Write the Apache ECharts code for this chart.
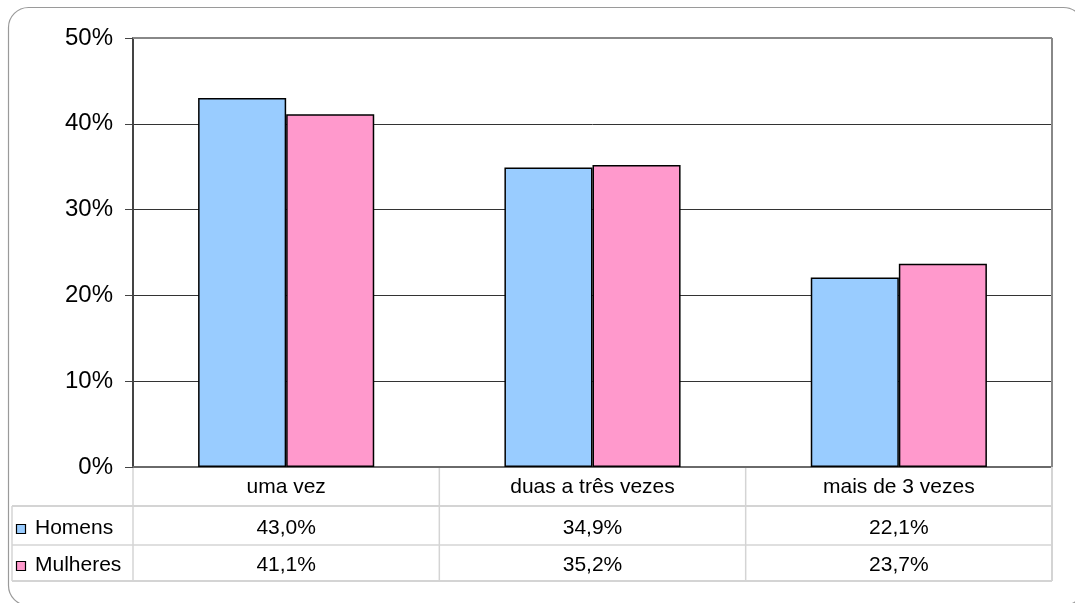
<!DOCTYPE html>
<html>
<head>
<meta charset="utf-8">
<script src="https://cdn.jsdelivr.net/npm/echarts@6/dist/echarts.min.js"></script>
<style>
html,body{margin:0;padding:0;background:#fff;}
#c{width:1075px;height:603px;}
</style>
</head>
<body>
<div id="c"></div>
<script>
var categories = ['uma vez', 'duas a três vezes', 'mais de 3 vezes'];
var seriesNames = ['Homens', 'Mulheres'];
var homens = [43.0, 34.9, 22.1];
var mulheres = [41.1, 35.2, 23.7];
var yTicks = [0, 10, 20, 30, 40, 50];
var colors = ['#99ccff', '#ff99cc'];

(function () {
var FONT = 'Liberation Sans, Arial, sans-serif';
function fmt(v){ return v.toFixed(1).replace('.', ',') + '%'; }

var chart = echarts.init(document.getElementById('c'));
var option = {
  animation: false,
  backgroundColor: '#fff',
  textStyle: { fontFamily: FONT },
  grid: { left: 133, right: 23, top: 38, bottom: 136, show: false },
  xAxis: {
    type: 'category',
    data: categories,
    axisTick: { show: false },
    axisLine: { lineStyle: { color: '#6a6a6a', width: 2 } },
    axisLabel: {
      margin: 2,
      interval: 0,
      formatter: function (v, i) {
        return '{c|' + v + '}\n{h|' + fmt(homens[i]) + '}\n{m|' + fmt(mulheres[i]) + '}';
      },
      rich: {
        c: { fontSize: 21, color: '#000', lineHeight: 36, fontFamily: FONT },
        h: { fontSize: 21, color: '#000', lineHeight: 46, fontFamily: FONT },
        m: { fontSize: 21, color: '#000', lineHeight: 28, fontFamily: FONT }
      }
    }
  },
  yAxis: {
    type: 'value',
    min: yTicks[0],
    max: yTicks[yTicks.length - 1],
    interval: 10,
    axisLine: { show: true, lineStyle: { color: '#444', width: 2 } },
    axisTick: { show: true, length: 8, lineStyle: { color: '#444' } },
    axisLabel: { formatter: '{value}%', fontSize: 24, color: '#000', margin: 20, fontFamily: FONT },
    splitLine: { lineStyle: { color: '#333', width: 1 } }
  },
  series: [
    {
      name: seriesNames[0], type: 'bar', data: homens,
      barGap: '0%', barCategoryGap: '42.5%',
      itemStyle: { color: colors[0], borderColor: '#000', borderWidth: 1.5 }
    },
    {
      name: seriesNames[1], type: 'bar', data: mulheres,
      barGap: '0%', barCategoryGap: '42.5%',
      itemStyle: { color: colors[1], borderColor: '#000', borderWidth: 1.5 }
    }
  ]
};
chart.setOption(option);

var p0 = chart.convertToPixel({ gridIndex: 0 }, [0, 0]);
var p1 = chart.convertToPixel({ gridIndex: 0 }, [1, 0]);
var step = p1[0] - p0[0];
var gL = p0[0] - step / 2;
var gR = gL + step * categories.length;
var gB = p0[1];
var gT = chart.convertToPixel({ gridIndex: 0 }, [0, yTicks[yTicks.length - 1]])[1];
var r1 = gB + 39, r2 = r1 + 39, r3 = r2 + 36;
var tabLeft = 12;
var lc = '#d4d4d4';
var g = [];
function line(xa, ya, xb, yb, color, w, z) {
  g.push({ type: 'line', z: z || 1, shape: { x1: xa, y1: ya, x2: xb, y2: yb }, style: { stroke: color, lineWidth: w || 1.5 } });
}
g.push({ type: 'rect', z: 0, shape: { x: 8.5, y: 7.5, width: 1075, height: 598, r: 20 }, style: { fill: 'none', stroke: '#9a9a9a', lineWidth: 1.2 } });
line(gL, gT, gR, gT, '#888', 2, 10);
line(gR, gT, gR, gB, '#888', 2, 10);
line(gR, gB, gR, r3, lc, 2);
for (var i = 0; i <= categories.length; i++) {
  line(gL + step * i, gB + 1, gL + step * i, r3, lc, 1.5);
}
line(tabLeft, r1, gR, r1, lc, 2);
line(tabLeft, r2, gR, r2, lc, 1.5);
line(tabLeft, r3, gR, r3, lc, 2);
line(tabLeft, r1, tabLeft, r3, lc, 1.5);
var rowsY = [528, 565];
for (var k = 0; k < seriesNames.length; k++) {
  g.push({ type: 'rect', z: 5, shape: { x: 16.5, y: rowsY[k] - 3.5, width: 9, height: 9 }, style: { fill: colors[k], stroke: '#000', lineWidth: 1.2 } });
  g.push({ type: 'text', z: 5, x: 35, y: rowsY[k], style: { text: seriesNames[k], fontSize: 21, fontFamily: FONT, fill: '#000', verticalAlign: 'middle', align: 'left' } });
}
chart.setOption({ graphic: g });
})();
</script>
</body>
</html>
